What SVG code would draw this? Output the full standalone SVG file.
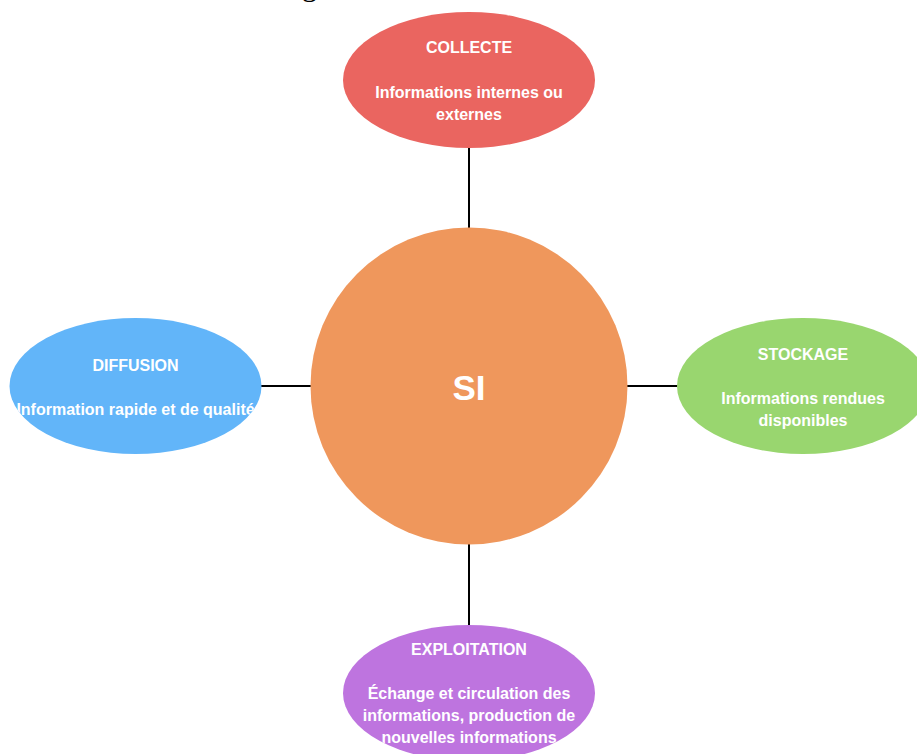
<svg xmlns="http://www.w3.org/2000/svg" width="917" height="754" viewBox="0 0 917 754">
  <style>
    .label { font-family: "Liberation Sans", Arial, sans-serif; font-weight: bold; font-size: 16px; fill: #ffffff; text-anchor: middle; }
    .core { font-family: "Liberation Sans", Arial, sans-serif; font-weight: bold; font-size: 35px; fill: #ffffff; text-anchor: middle; }
    .link { stroke: #000000; stroke-width: 2; fill: none; }
  </style>
  <defs>
    <clipPath id="clip-collecte"><ellipse cx="469" cy="80" rx="126" ry="68"/></clipPath>
    <clipPath id="clip-diffusion"><ellipse cx="135.5" cy="386" rx="126" ry="68"/></clipPath>
    <clipPath id="clip-stockage"><ellipse cx="803" cy="386" rx="126" ry="68"/></clipPath>
    <clipPath id="clip-exploitation"><ellipse cx="469" cy="693" rx="126" ry="68"/></clipPath>
  </defs>

  <rect width="917" height="754" fill="#ffffff"/>

  <!-- caption above, mostly outside the page -->
  <text x="302" y="-4" font-family="Liberation Serif, serif" font-size="30" fill="#000000">g</text>

  <g id="connectors">
    <line class="link" x1="469" y1="148" x2="469" y2="228"/>
    <line class="link" x1="261" y1="386" x2="311" y2="386"/>
    <line class="link" x1="627" y1="386" x2="678" y2="386"/>
    <line class="link" x1="469" y1="544" x2="469" y2="626"/>
  </g>

  <g id="si">
    <circle cx="469" cy="386" r="158.5" fill="#EF975C"/>
    <text class="core" x="469" y="400">SI</text>
  </g>

  <g id="collecte">
    <ellipse cx="469" cy="80" rx="126" ry="68" fill="#EA6560"/>
    <g clip-path="url(#clip-collecte)">
      <text class="label" x="469" y="52.5">COLLECTE</text>
      <text class="label" x="469" y="97.5">Informations internes ou</text>
      <text class="label" x="469" y="120">externes</text>
    </g>
  </g>

  <g id="diffusion">
    <ellipse cx="135.5" cy="386" rx="126" ry="68" fill="#62B5F9"/>
    <g clip-path="url(#clip-diffusion)">
      <text class="label" x="135.5" y="370.5">DIFFUSION</text>
      <text class="label" x="135.5" y="414.5">Information rapide et de qualité</text>
    </g>
  </g>

  <g id="stockage">
    <ellipse cx="803" cy="386" rx="126" ry="68" fill="#99D66F"/>
    <g clip-path="url(#clip-stockage)">
      <text class="label" x="803" y="360">STOCKAGE</text>
      <text class="label" x="803" y="404">Informations rendues</text>
      <text class="label" x="803" y="426">disponibles</text>
    </g>
  </g>

  <g id="exploitation">
    <ellipse cx="469" cy="693" rx="126" ry="68" fill="#BE74DF"/>
    <g clip-path="url(#clip-exploitation)">
      <text class="label" x="469" y="655">EXPLOITATION</text>
      <text class="label" x="469" y="699">Échange et circulation des</text>
      <text class="label" x="469" y="721">informations, production de</text>
      <text class="label" x="469" y="743">nouvelles informations</text>
    </g>
  </g>
</svg>
